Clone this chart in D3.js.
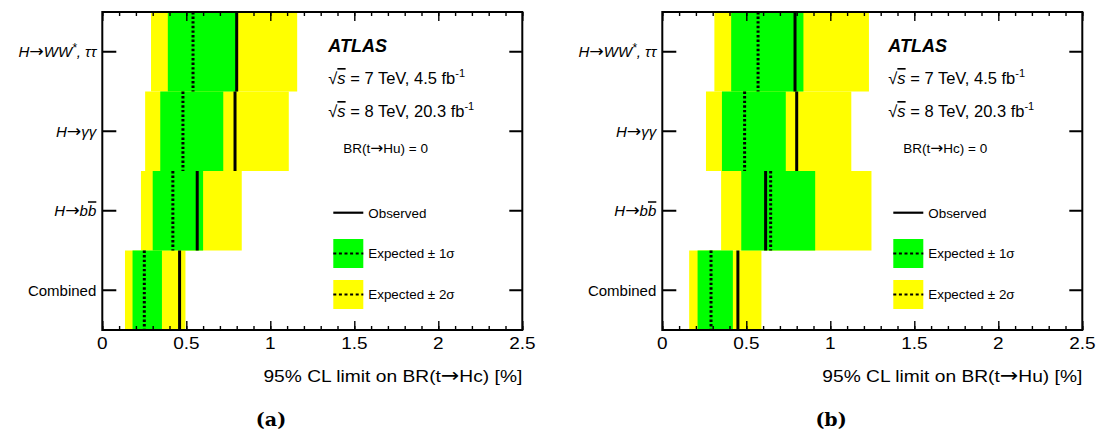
<!DOCTYPE html>
<html><head><meta charset="utf-8">
<script src="https://cdn.jsdelivr.net/npm/d3@7"></script>
<style>
body{margin:0;background:#fff;}
svg text{font-family:"Liberation Sans",Arial,Helvetica,sans-serif;fill:#000;}
</style></head><body>
<svg id="c" width="1096" height="434"></svg>
<script>
// ---------- data ----------
const categories = ["H→WW*, ττ", "H→γγ", "H→bb̄", "Combined"];
const xTickValues = [0, 0.5, 1, 1.5, 2, 2.5];
const xTickLabels = ["0", "0.5", "1", "1.5", "2", "2.5"];
const xMinorTicks = d3.range(0, 2.5001, 0.1);

// panel (a): BR(t->Hc)
const obsA = [0.80, 0.79, 0.565, 0.46];
const expA = [0.54, 0.48, 0.42, 0.25];
const lo1A = [0.39, 0.345, 0.30, 0.18];
const hi1A = [0.805, 0.72, 0.60, 0.355];
const lo2A = [0.29, 0.255, 0.23, 0.135];
const hi2A = [1.16, 1.11, 0.83, 0.495];

// panel (b): BR(t->Hu)
const obsB = [0.79, 0.80, 0.615, 0.45];
const expB = [0.57, 0.49, 0.645, 0.29];
const lo1B = [0.41, 0.355, 0.47, 0.21];
const hi1B = [0.84, 0.735, 0.91, 0.42];
const lo2B = [0.31, 0.26, 0.35, 0.16];
const hi2B = [1.23, 1.125, 1.245, 0.59];

const panelTitles = ["95% CL limit on BR(t→Hc) [%]", "95% CL limit on BR(t→Hu) [%]"];
const panelConstraint = ["BR(t→Hu) = 0", "BR(t→Hc) = 0"];
const panelCaptions = ["(a)", "(b)"];
const legendLabels = ["Observed", "Expected ± 1σ", "Expected ± 2σ"];

const panels = [
  {dx: 0, obs: obsA, exp: expA, lo1: lo1A, hi1: hi1A, lo2: lo2A, hi2: hi2A},
  {dx: 560, obs: obsB, exp: expB, lo1: lo1B, hi1: hi1B, lo2: lo2B, hi2: hi2B}
];

// ---------- helpers ----------
const svg = d3.select("#c");
const GREEN = "#00ff00", YELLOW = "#ffff00";

// split a segment so that arrows get their own tspans
function splitArrows(s) {
  if (s.arrow || s.t.indexOf("→") < 0) return [s];
  const out = [];
  s.t.split(/(→)/).forEach((part, k) => {
    if (!part) return;
    const seg = Object.assign({}, s, {t: part});
    if (part === "→") { seg.arrow = true; delete seg.sup; delete seg.down; }
    else if (k > 0) { delete seg.sup; delete seg.down; }
    out.push(seg);
  });
  return out;
}

function txt(parent, x, y, o, segs) {
  const t = parent.append("text")
    .attr("transform", `translate(${x},${y}) scale(${o.sx || 1},1)`)
    .attr("text-anchor", o.anchor || "start")
    .style("font-size", o.size + "px");
  if (o.family) t.style("font-family", o.family);
  if (o.weight) t.style("font-weight", o.weight);
  if (o.italic) t.style("font-style", "italic");
  let list = typeof segs === "string" ? [{t: segs}] : segs;
  list = list.flatMap(splitArrows);
  list.forEach(s => {
    const ts = t.append("tspan").text(s.t);
    if (s.arrow) {
      ts.style("font-family", "'DejaVu Sans',sans-serif").style("font-style", "normal")
        .style("font-size", (o.size * 1.15) + "px");
    }
    if (s.sup) ts.attr("dy", -s.sup).style("font-size", (s.fs || o.size * 0.65) + "px");
    if (s.down) ts.attr("dy", s.down);
    if (s.over) ts.style("text-decoration", "overline");
    if (s.it) ts.style("font-style", "italic");
    if (s.up) ts.style("font-style", "normal");
  });
  return t;
}

const catLabelSegs = [
  [{t: "H→WW"}, {t: "*", sup: 5, fs: 12}, {t: ", ττ", down: 5}],
  [{t: "H→γγ"}],
  [{t: "H→b"}, {t: "b", over: true}],
  [{t: "Combined", up: true}]
];

// ---------- draw ----------
panels.forEach((p, pi) => {
  const x0 = 102.3 + p.dx, x1 = 522.3 + p.dx, y0 = 12, y1 = 330;
  const x = d3.scaleLinear().domain([0, 2.5]).range([x0, x1]);
  const y = d3.scaleBand().domain(categories).range([y0, y1]).padding(0);
  const g = svg.append("g");
  const rows = categories.map((c, i) => ({c, i}));

  // 2 sigma
  g.selectAll(".y2").data(rows).join("rect")
    .attr("x", d => x(p.lo2[d.i])).attr("width", d => x(p.hi2[d.i]) - x(p.lo2[d.i]))
    .attr("y", d => y(d.c)).attr("height", y.bandwidth()).attr("fill", YELLOW);
  // 1 sigma
  g.selectAll(".g1").data(rows).join("rect")
    .attr("x", d => x(p.lo1[d.i])).attr("width", d => x(p.hi1[d.i]) - x(p.lo1[d.i]))
    .attr("y", d => y(d.c)).attr("height", y.bandwidth()).attr("fill", GREEN);
  // expected
  g.selectAll(".ex").data(rows).join("line")
    .attr("x1", d => x(p.exp[d.i])).attr("x2", d => x(p.exp[d.i]))
    .attr("y1", d => y(d.c)).attr("y2", d => y(d.c) + y.bandwidth())
    .attr("stroke", "#000").attr("stroke-width", 3).attr("stroke-dasharray", "2.4,2.2");
  // observed
  g.selectAll(".ob").data(rows).join("line")
    .attr("x1", d => x(p.obs[d.i])).attr("x2", d => x(p.obs[d.i]))
    .attr("y1", d => y(d.c)).attr("y2", d => y(d.c) + y.bandwidth())
    .attr("stroke", "#000").attr("stroke-width", 3);

  // x axis ticks bottom (inward)
  const axB = g.append("g").attr("transform", `translate(0,${y1})`);
  axB.call(d3.axisBottom(x).tickValues(xMinorTicks).tickSize(-4).tickFormat(""));
  axB.append("g").call(d3.axisBottom(x).tickValues(xTickValues).tickSize(-9).tickFormat(""));
  axB.selectAll(".domain").remove();
  axB.selectAll("line").attr("stroke-width", 1.4);
  xTickValues.forEach((v, i) => txt(g, x(v), 349, {size: 16.5, sx: 1.15, anchor: "middle"}, xTickLabels[i]));
  // top ticks (inward)
  const axT = g.append("g").attr("transform", `translate(0,${y0})`);
  axT.call(d3.axisTop(x).tickValues(xMinorTicks).tickSize(-4).tickFormat(""));
  axT.append("g").call(d3.axisTop(x).tickValues(xTickValues).tickSize(-9).tickFormat(""));
  axT.selectAll(".domain").remove();
  axT.selectAll("line").attr("stroke-width", 1.4);

  // y ticks
  const axL = g.append("g").attr("transform", `translate(${x0},0)`);
  axL.call(d3.axisLeft(y).tickSize(-14).tickFormat(""));
  const axR = g.append("g").attr("transform", `translate(${x1},0)`);
  axR.call(d3.axisRight(y).tickSize(-13).tickFormat(""));
  g.selectAll(".domain").remove();
  axL.selectAll("line").attr("stroke-width", 2);
  axR.selectAll("line").attr("stroke-width", 2);

  // frame
  g.append("rect").attr("x", x0).attr("y", y0).attr("width", x1 - x0).attr("height", y1 - y0)
    .attr("fill", "none").attr("stroke", "#000").attr("stroke-width", 2);

  // category labels
  categories.forEach((c, i) => {
    txt(g, x0 - 6, y(c) + y.bandwidth() / 2 + 5.5, {size: 15, anchor: "end", italic: i < 3}, catLabelSegs[i]);
  });

  // axis title & caption
  txt(g, x1, 382, {size: 17, sx: 1.13, anchor: "end"}, panelTitles[pi]);
  txt(g, 271 + p.dx, 426, {size: 19, anchor: "middle", family: "'DejaVu Serif',serif", weight: "bold"}, panelCaptions[pi]);

  // ATLAS label block
  const lx = x0 + 226;
  txt(g, lx, 52, {size: 18, weight: "bold", italic: true}, "ATLAS");
  txt(g, lx, 84, {size: 16.5}, [{t: "√"}, {t: "s", it: true, over: true}, {t: " = 7 TeV, 4.5 fb"}, {t: "-1", sup: 7, fs: 11}]);
  txt(g, lx, 117, {size: 16.5}, [{t: "√"}, {t: "s", it: true, over: true}, {t: " = 8 TeV, 20.3 fb"}, {t: "-1", sup: 7, fs: 11}]);
  txt(g, lx + 15, 153, {size: 13.5}, panelConstraint[pi]);

  // legend
  const bx = x0 + 231, bw = 30;
  g.append("line").attr("x1", bx).attr("x2", bx + bw).attr("y1", 212.7).attr("y2", 212.7)
    .attr("stroke", "#000").attr("stroke-width", 2.2);
  [[239, GREEN], [280, YELLOW]].forEach(([yy, col]) => {
    g.append("rect").attr("x", bx).attr("y", yy).attr("width", bw).attr("height", 29).attr("fill", col);
    g.append("line").attr("x1", bx).attr("x2", bx + bw).attr("y1", yy + 14.5).attr("y2", yy + 14.5)
      .attr("stroke", "#000").attr("stroke-width", 2.2).attr("stroke-dasharray", "3,2.6");
  });
  txt(g, bx + 35, 218, {size: 13.4}, legendLabels[0]);
  txt(g, bx + 35, 258, {size: 13.4}, legendLabels[1]);
  txt(g, bx + 35, 299, {size: 13.4}, legendLabels[2]);
});
</script>
</body></html>
